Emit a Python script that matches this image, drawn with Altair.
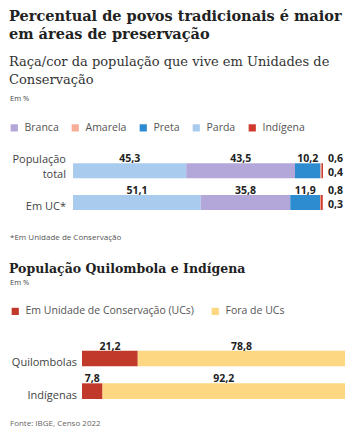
import altair as alt
import pandas as pd

# ---------------- data ----------------
rows1 = ["População total", "Em UC*"]
row_text1 = ["População\ntotal", "Em UC*"]
stack_order = ["Parda", "Branca", "Preta", "Amarela", "Indígena"]
pop_total = [45.3, 43.5, 10.2, 0.4, 0.6]
em_uc = [51.1, 35.8, 11.9, 0.3, 0.8]
legend_order1 = ["Branca", "Amarela", "Preta", "Parda", "Indígena"]
colors1 = ["#b3a6d9", "#f7ae98", "#2d8bd0", "#a9cbee", "#d03a2c"]

rows2 = ["Quilombolas", "Indígenas"]
groups2 = ["Em Unidade de Conservação (UCs)", "Fora de UCs"]
in_uc = [21.2, 7.8]
out_uc = [78.8, 92.2]
colors2 = ["#c0392b", "#fdd781"]

SANS = "Open Sans"
SERIF = "DejaVu Serif"


def fmt(v):
    return f"{v:.1f}".replace(".", ",")


def stacked(rows, series_names, series_values):
    recs = []
    for r_i, row in enumerate(rows):
        start = 0.0
        for s_i, name in enumerate(series_names):
            v = series_values[r_i][s_i]
            recs.append(dict(row=row, serie=name, value=v, start=start,
                             end=start + v, mid=start + v / 2, label=fmt(v), order=s_i))
            start += v
    return pd.DataFrame(recs)


df1 = stacked(rows1, stack_order, [pop_total, em_uc])
df1["xr"] = 100.0
df2 = stacked(rows2, groups2, [[a, b] for a, b in zip(in_uc, out_uc)])
rl1 = pd.DataFrame({"row": rows1, "txt": row_text1,
                    "lines": [t.count("\n") for t in row_text1]})
rl2 = pd.DataFrame({"row": rows2, "txt": rows2})

# ---------------- chart 1 ----------------
x1 = alt.Scale(domain=[0, 100], range=[73, 323])
y1 = alt.Scale(domain=rows1, range=[163.3, 210], paddingInner=0.527, paddingOuter=0)

base1 = alt.Chart(df1)
bars1 = base1.mark_bar(strokeWidth=0).encode(
    x=alt.X("start:Q", scale=x1, axis=None),
    x2="end:Q",
    y=alt.Y("row:N", scale=y1, axis=None),
    color=alt.Color("serie:N", scale=alt.Scale(domain=legend_order1, range=colors1),
                    legend=alt.Legend(orient="none", legendX=9, legendY=122.5,
                                      direction="horizontal", title=None,
                                      symbolType="square", symbolSize=52,
                                      symbolStrokeWidth=0, labelFont=SANS,
                                      labelFontSize=10.5, labelColor="#555",
                                      labelOffset=5, columnPadding=11, padding=0,
                                      labelLimit=0)),
    order="order:Q",
)
lab1 = base1.transform_filter("datum.value > 5").mark_text(
    font=SANS, fontSize=10.5, fontWeight="bold", color="#222", baseline="bottom", dy=1
).encode(x=alt.X("mid:Q", axis=None), y=alt.Y("row:N", bandPosition=0, axis=None), text="label:N")
small_top = base1.transform_filter("datum.serie == 'Indígena'").mark_text(
    font=SANS, fontSize=10.5, fontWeight="bold", color="#222", baseline="bottom", align="left", dx=5, dy=1
).encode(x=alt.X("xr:Q", axis=None), y=alt.Y("row:N", bandPosition=0, axis=None), text="label:N")
small_bot = base1.transform_filter("datum.serie == 'Amarela'").mark_text(
    font=SANS, fontSize=10.5, fontWeight="bold", color="#222", baseline="middle", align="left", dx=5, dy=2
).encode(x=alt.X("xr:Q", axis=None), y=alt.Y("row:N", bandPosition=0.5, axis=None), text="label:N")
rowlab1a = alt.Chart(rl1).transform_filter("datum.lines == 0").mark_text(
    font=SANS, fontSize=11, color="#444", align="right", baseline="bottom", dy=2
).encode(x=alt.value(66), y=alt.Y("row:N", bandPosition=1, axis=None), text="txt:N")
rowlab1b = alt.Chart(rl1).transform_filter("datum.lines == 1").mark_text(
    font=SANS, fontSize=11, color="#444", align="right", baseline="bottom", lineBreak="\n",
    lineHeight=15, dy=-13
).encode(x=alt.value(66), y=alt.Y("row:N", bandPosition=1, axis=None), text="txt:N")

part1 = alt.layer(bars1, lab1, small_top, small_bot, rowlab1a, rowlab1b)

# ---------------- chart 2 ----------------
x2 = alt.Scale(domain=[0, 100], range=[82, 345])
y2 = alt.Scale(domain=rows2, range=[350.7, 399], paddingInner=0.52, paddingOuter=0)
base2 = alt.Chart(df2)
bars2 = base2.mark_bar(strokeWidth=0).encode(
    x=alt.X("start:Q", scale=x2, axis=None),
    x2="end:Q",
    y=alt.Y("row:N", scale=y2, axis=None),
    color=alt.Color("serie:N", scale=alt.Scale(domain=groups2, range=colors2),
                    legend=alt.Legend(orient="none", legendX=10, legendY=306,
                                      direction="horizontal", title=None,
                                      symbolType="square", symbolSize=52,
                                      symbolStrokeWidth=0, labelFont=SANS,
                                      labelFontSize=10.5, labelColor="#555",
                                      labelOffset=5, columnPadding=16, padding=0,
                                      labelLimit=0)),
    order="order:Q",
)
lab2 = base2.mark_text(
    font=SANS, fontSize=10.5, fontWeight="bold", color="#222", baseline="bottom", dy=1
).encode(x=alt.X("mid:Q", axis=None), y=alt.Y("row:N", bandPosition=0, axis=None), text="label:N")
rowlab2 = alt.Chart(rl2).mark_text(
    font=SANS, fontSize=11, color="#444", align="right", baseline="bottom", dy=2
).encode(x=alt.value(77), y=alt.Y("row:N", bandPosition=1, axis=None), text="txt:N")

part2 = alt.layer(bars2, lab2, rowlab2)

# ---------------- headings ----------------
one = pd.DataFrame({"a": [0]})


def note(txt, x, y, size, font=SANS, weight="normal", color="#333", baseline="middle", lh=None):
    kw = dict(font=font, fontSize=size, fontWeight=weight, color=color, align="left",
              baseline=baseline, lineBreak="\n")
    if lh:
        kw["lineHeight"] = lh
    return alt.Chart(one).mark_text(**kw).encode(x=alt.value(x), y=alt.value(y), text=alt.value(txt))


texts = alt.layer(
    note("Percentual de povos tradicionais é maior\nem áreas de preservação", 9, 10, 14.5,
         font=SERIF, weight="bold", color="#222", baseline="top", lh=18),
    note("Raça/cor da população que vive em Unidades de\nConservação", 9, 56, 13,
         font=SERIF, weight="normal", color="#333", baseline="top", lh=18),
    note("Em %", 10, 99, 7.5, color="#444"),
    note("*Em Unidade de Conservação", 10, 238, 8, color="#555"),
    note("População Quilombola e Indígena", 9, 269, 12.5, font=SERIF, weight="bold", color="#222"),
    note("Em %", 10, 283, 7.5, color="#444"),
    note("Fonte: IBGE, Censo 2022", 10, 424, 8, color="#666"),
)

chart = alt.layer(part1, part2, texts).resolve_scale(
    x="independent", y="independent", color="independent"
).properties(
    width=354, height=436, padding=0, autosize="none", background="white"
).configure_view(stroke=None)

chart.save("out.html", embed_options={"renderer": "svg", "actions": False})
